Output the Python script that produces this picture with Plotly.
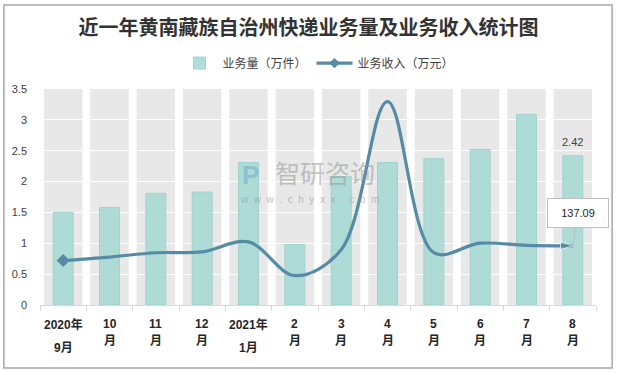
import plotly.graph_objects as go

categories = ["2020年9月", "10月", "11月", "12月", "2021年1月", "2月", "3月", "4月", "5月", "6月", "7月", "8月"]
tick_top = ["2020年", "10", "11", "12", "2021年", "2", "3", "4", "5", "6", "7", "8"]
tick_bottom = ["9月", "月", "月", "月", "1月", "月", "月", "月", "月", "月", "月", "月"]
volume = [1.50, 1.58, 1.81, 1.83, 2.31, 0.98, 2.08, 2.31, 2.37, 2.52, 3.09, 2.42]   # 万件
revenue = [103, 111, 121, 123, 146, 68, 128, 471, 121, 143, 138, 137.09]          # 万元
y_ticks = [0, 0.5, 1, 1.5, 2, 2.5, 3, 3.5]
y_max = 3.5
y2_max = 500

FONT = "Liberation Sans, Noto Sans CJK SC, sans-serif"
TEAL = "rgba(168,217,212,0.9)"
LINE = "#558ba5"

fig = go.Figure()

fig.add_trace(go.Bar(
    x=categories, y=volume, name="业务量（万件）", width=0.43,
    marker=dict(color=TEAL, line=dict(color="#9fd3ce", width=1)),
))

n = len(revenue)
fig.add_trace(go.Scatter(
    x=categories, y=revenue, yaxis="y2", mode="lines+markers",
    line=dict(color=LINE, width=3.2, shape="spline", smoothing=1.0),
    marker=dict(symbol="arrow", size=[0] * (n - 1) + [13], color=LINE, angleref="previous"),
    showlegend=False, hoverinfo="skip",
))
fig.add_trace(go.Scatter(
    x=categories[:1], y=revenue[:1], yaxis="y2", mode="markers",
    marker=dict(symbol="diamond", size=10, color=LINE),
    showlegend=False, hoverinfo="skip",
))
fig.add_trace(go.Scatter(
    x=[None], y=[None], yaxis="y2", mode="lines+markers", name="业务收入（万元）",
    line=dict(color=LINE, width=3.2), marker=dict(symbol="diamond", size=8, color=LINE),
))

shapes = []
for i, c in enumerate(categories):
    shapes.append(dict(type="rect", xref="x", yref="y", x0=i - 0.415, x1=i + 0.415,
                       y0=0, y1=y_max, fillcolor="#e8e8e8", line=dict(width=0), layer="below"))
shapes.append(dict(type="rect", xref="paper", yref="paper", x0=-0.065, x1=1.029, y0=-0.292, y1=1.389,
                   line=dict(color="#a6a6a6", width=1.5), fillcolor="rgba(0,0,0,0)", layer="below"))

annotations = []
for i, (t, b) in enumerate(zip(tick_top, tick_bottom)):
    annotations.append(dict(x=categories[i], y=-0.088, xref="x", yref="paper", text=t, showarrow=False,
                            font=dict(family=FONT, size=12, color="#262626", weight="bold"), yanchor="middle"))
    annotations.append(dict(x=categories[i], y=-0.199 if "年" in t else -0.167, xref="x", yref="paper", text=b,
                            showarrow=False, font=dict(family=FONT, size=12, color="#262626", weight="bold"),
                            yanchor="middle"))

annotations.append(dict(x=categories[-1], y=volume[-1], xref="x", yref="y", text=f"{volume[-1]:.2f}",
                        showarrow=False, yanchor="bottom", yshift=6,
                        font=dict(family=FONT, size=11, color="#404040")))
annotations.append(dict(x=categories[-1], y=revenue[-1], xref="x", yref="y2", text=f"{revenue[-1]:.2f}",
                        showarrow=True, arrowhead=0, arrowwidth=1, arrowcolor="#bfbfbf",
                        ax=5, ay=-33, width=46, height=14, bgcolor="white", bordercolor="#bfbfbf",
                        borderwidth=1, borderpad=7,
                        font=dict(family=FONT, size=11, color="#262626")))

annotations.append(dict(x=0.513, y=0.615, xref="paper", yref="paper", text="智研咨询", showarrow=False,
                        font=dict(family="Noto Sans CJK SC", size=25, color="rgba(150,150,150,0.55)")))
annotations.append(dict(x=0.484, y=0.488, xref="paper", yref="paper", text="w  w  w  .  c  h  y  x  x  .  c  o  m",
                        showarrow=False, font=dict(family=FONT, size=10, color="rgba(150,150,150,0.6)")))
annotations.append(dict(x=0.378, y=0.60, xref="paper", yref="paper", text="<b>P</b>", showarrow=False,
                        font=dict(family=FONT, size=26, color="rgba(100,160,195,0.45)")))

fig.update_layout(
    width=617, height=373,
    margin=dict(l=40, r=21, t=89, b=68),
    paper_bgcolor="white", plot_bgcolor="white",
    barmode="overlay",
    title=dict(text="近一年黄南藏族自治州快递业务量及业务收入统计图", x=0.5, xref="container", xanchor="center",
               y=1 - 28 / 373, yanchor="middle",
               font=dict(family="Noto Sans CJK SC", size=20, color="#333333", weight="bold")),
    legend=dict(orientation="h", x=0.5, xanchor="center", y=1.12, yanchor="middle",
                font=dict(family="Noto Sans CJK SC", size=12, color="#404040"), traceorder="normal",
                itemwidth=36),
    xaxis=dict(type="category", showgrid=False, showline=True, linecolor="#d9d9d9",
               ticks="outside", ticklen=5, tickcolor="#d9d9d9", tickson="boundaries",
               showticklabels=False, range=[-0.5, len(categories) - 0.5]),
    yaxis=dict(range=[0, y_max], tickvals=y_ticks, ticktext=[f"{v:g}" for v in y_ticks],
               showgrid=True, gridcolor="white", gridwidth=1, zeroline=False, showline=False,
               ticklabelstandoff=12, tickfont=dict(family=FONT, size=11, color="#404040")),
    yaxis2=dict(range=[0, y2_max], overlaying="y", side="right", visible=False),
    shapes=shapes, annotations=annotations,
)

fig.write_html("out.html", config={"displayModeBar": False},
               post_script="document.body.style.margin='0';document.body.style.overflow='hidden';")
